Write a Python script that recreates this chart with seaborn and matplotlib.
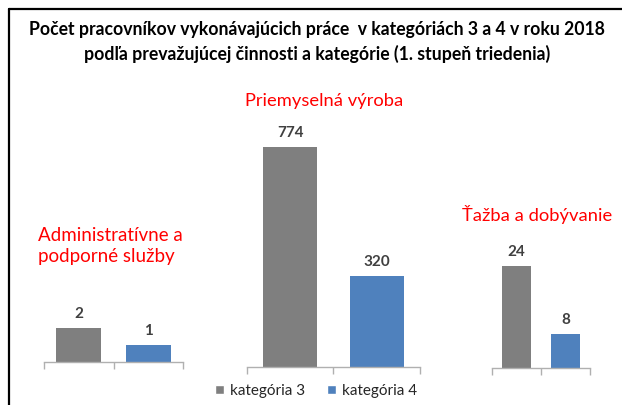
import matplotlib
matplotlib.use("Agg")
import matplotlib.pyplot as plt
import seaborn as sns
import pandas as pd
from matplotlib.patches import Patch
from matplotlib.lines import Line2D

sns.set_theme(style="white")
plt.rcParams['font.family'] = ['Lato', 'DejaVu Sans']

title = "Počet pracovníkov vykonávajúcich práce  v kategóriách 3 a 4 v roku 2018\npodľa prevažujúcej činnosti a kategórie (1. stupeň triedenia)"
categories = ["Administratívne a\npodporné služby", "Priemyselná výroba", "Ťažba a dobývanie"]
series = ["kategória 3", "kategória 4"]
kat3 = [2, 774, 24]
kat4 = [1, 320, 8]
colors = ["#7f7f7f", "#4f81bd"]

W, H = 622, 405
fig = plt.figure(figsize=(W / 100, H / 100), dpi=100)

def fx(x):
    return x / W

def fy(y):
    return 1 - y / H

# panel layout in pixels: (left, right, baseline, px per unit, ymax, bar width)
panels = [
    (44, 183, 362, 17.0, 2.6, 0.65),
    (247, 420, 367, 220 / 774, 900, 0.63),
    (492, 590, 368, 102 / 24, 30, 0.58),
]
title_pos = [(38, 246, 'left', 13.5), (324, 101, 'center', 13.2), (537, 215, 'center', 13.2)]

for i, (l, r, base, scale, ymax, bw) in enumerate(panels):
    h = ymax * scale
    ax = fig.add_axes([fx(l), fy(base), (r - l) / W, h / H])
    df = pd.DataFrame({"serie": series, "hodnota": [kat3[i], kat4[i]]})
    sns.barplot(data=df, x="serie", y="hodnota", hue="serie", palette=colors,
                width=bw, ax=ax, legend=False, saturation=1, linewidth=0)
    ax.set_ylim(0, ymax)
    ax.set_xlim(-0.5, 1.5)
    ax.set_xticks([-0.5, 0.5, 1.5])
    ax.set_xticklabels([])
    ax.set_yticks([])
    ax.set_xlabel("")
    ax.set_ylabel("")
    for s in ["top", "left", "right"]:
        ax.spines[s].set_visible(False)
    ax.spines["bottom"].set_color("#b0b0b0")
    ax.spines["bottom"].set_linewidth(1.0)
    ax.tick_params(axis="x", bottom=True, length=5, width=1.0, color="#b0b0b0", direction="out")
    ax.patch.set_alpha(0)
    for c in ax.containers:
        ax.bar_label(c, fmt="%d", padding=5, fontsize=11, fontweight="bold", color="#404040")
    tx, ty, ha, fs = title_pos[i]
    fig.text(fx(tx), fy(ty), categories[i], ha=ha, va="center", fontsize=fs,
             color="#ff0000", linespacing=1.3)

fig.text(fx(317), fy(42), title, ha="center", va="center", fontsize=12.7,
         fontweight="bold", color="black", linespacing=1.4)

handles = [Patch(facecolor=colors[0], label=series[0]), Patch(facecolor=colors[1], label=series[1])]
fig.legend(handles=handles, loc="center", bbox_to_anchor=(fx(316), fy(391)), ncol=2,
           frameon=False, fontsize=11, handlelength=0.6, handleheight=0.6,
           handletextpad=0.4, columnspacing=1.4, borderpad=0)

fig.add_artist(Line2D([fx(9), fx(9)], [fy(9), 0], color="black", linewidth=1.6))
fig.add_artist(Line2D([fx(9), 1], [fy(9), fy(9)], color="black", linewidth=1.6))

fig.savefig("out.png", dpi=100)
